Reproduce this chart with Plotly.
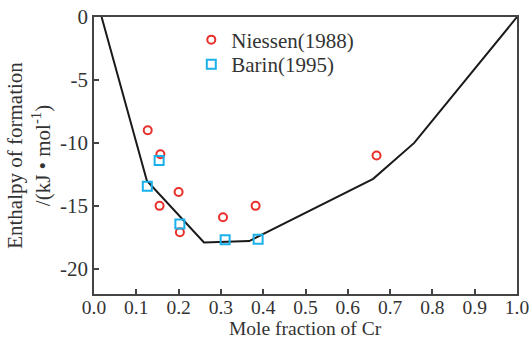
import plotly.graph_objects as go

# Calculated curve
calc_x = [0.018, 0.125, 0.26, 0.367, 0.66, 0.757, 1.0]
calc_y = [0.0, -13.0, -17.9, -17.8, -12.85, -10.0, 0.0]

# Niessen (1988)
nie_x = [0.127, 0.157, 0.200, 0.155, 0.203, 0.305, 0.382, 0.668]
nie_y = [-9.0, -10.9, -13.9, -15.0, -17.1, -15.9, -15.0, -11.0]

# Barin (1995)
bar_x = [0.154, 0.126, 0.203, 0.310, 0.388]
bar_y = [-11.4, -13.45, -16.45, -17.7, -17.65]

x_ticks = [0.0, 0.1, 0.2, 0.3, 0.4, 0.5, 0.6, 0.7, 0.8, 0.9, 1.0]
y_ticks = [0, -5, -10, -15, -20]

FONT = "Liberation Serif"
TXT = "#333333"
FS = 21

fig = go.Figure()
fig.add_trace(go.Scatter(x=calc_x, y=calc_y, mode="lines",
                         line=dict(color="#1a1a1a", width=2),
                         showlegend=False))
fig.add_trace(go.Scatter(x=nie_x, y=nie_y, mode="markers", name="Niessen(1988)",
                         legend="legend",
                         marker=dict(symbol="circle-open", size=8, color="#e8302a",
                                     line=dict(width=2, color="#e8302a"))))
fig.add_trace(go.Scatter(x=bar_x, y=bar_y, mode="markers", name="Barin(1995)",
                         legend="legend2",
                         marker=dict(symbol="square-open", size=9, color="#1ab0ea",
                                     line=dict(width=2, color="#1ab0ea"))))

leg_common = dict(xanchor="left", yanchor="middle", bgcolor="rgba(0,0,0,0)",
                  font=dict(family=FONT, size=FS, color=TXT), itemwidth=30,
                  borderwidth=0)

fig.update_layout(
    width=532, height=340,
    margin=dict(l=94, r=15, t=17, b=46),
    paper_bgcolor="white", plot_bgcolor="white",
    font=dict(family=FONT, size=FS, color=TXT),
    legend=dict(x=0.23, y=0.917, **leg_common),
    legend2=dict(x=0.23, y=0.828, **leg_common),
    xaxis=dict(range=[0, 1.0], tickvals=x_ticks,
               ticktext=[f"{v:.1f}" for v in x_ticks],
               ticks="inside", ticklen=5, tickwidth=1.5, tickcolor="#444",
               showline=True, linecolor="#444", linewidth=1.5, mirror=True,
               showgrid=False, zeroline=False, automargin=False,
               ticklabelstandoff=-5,
               tickfont=dict(family=FONT, size=19.5, color=TXT)),
    yaxis=dict(range=[-22, 0], tickvals=y_ticks,
               ticktext=[str(v) for v in y_ticks],
               ticks="inside", ticklen=5, tickwidth=1.5, tickcolor="#444",
               showline=True, linecolor="#444", linewidth=1.5, mirror=True,
               showgrid=False, zeroline=False, automargin=False,
               tickfont=dict(family=FONT, size=FS, color=TXT),
               title=dict(text="Enthalpy of formation<br>/(kJ • mol<sup>-1</sup>)",
                          standoff=4,
                          font=dict(family=FONT, size=FS, color=TXT))),
    annotations=[dict(text="Mole fraction of Cr", xref="paper", yref="paper",
                      x=0.5, y=-0.166, xanchor="center", yanchor="bottom",
                      borderpad=0, showarrow=False,
                      font=dict(family=FONT, size=19.5, color=TXT))],
)

fig.write_html("out.html")
